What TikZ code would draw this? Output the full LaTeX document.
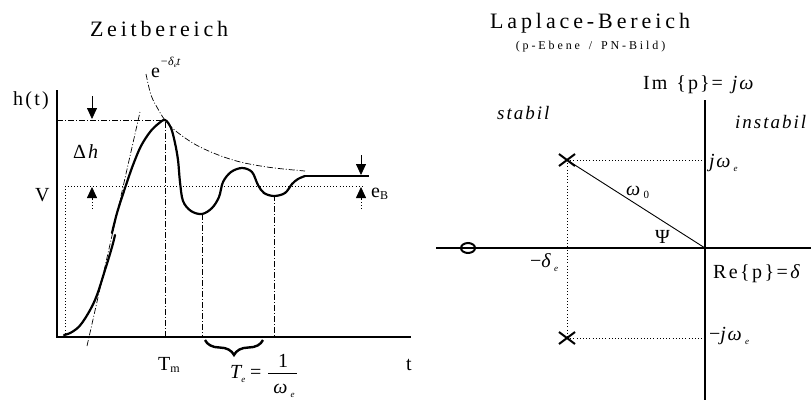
\documentclass[tikz,border=0pt]{standalone}
\usepackage{fontspec}
\setmainfont{Liberation Serif}
\usetikzlibrary{arrows.meta,decorations.pathreplacing,shapes.geometric}
\makeatletter
\newcommand\lsx[2]{\def\lsx@k{#1}\lsx@a#2\@nil}
\def\lsx@a#1{\ifx#1\@nil\else#1\kern\lsx@k\relax\expandafter\lsx@a\fi}
\makeatother
\newcommand{\subE}[1]{\raisebox{-0.45ex}{\fontsize{9}{9}\selectfont\itshape #1}}
\tikzset{
  axis/.style={line width=1.1pt},
  curve/.style={line width=2.2pt, line cap=round, line join=round},
  dd/.style={line width=0.7pt, dash pattern=on 6pt off 2pt on 1pt off 2pt},
  dots/.style={line width=0.9pt, dash pattern=on 1pt off 2.2pt},
  arr/.style={line width=0.8pt, -{Triangle[width=10pt,length=11pt]}},
  lbl/.style={inner sep=0pt, anchor=base west, font=\fontsize{20}{22}\selectfont},
  ilbl/.style={lbl, font=\fontsize{19}{20}\selectfont\itshape},
  title/.style={inner sep=0pt, anchor=base, font=\fontsize{22}{24}\selectfont},
  pole/.style={line width=2pt}
}
\begin{document}
\begin{tikzpicture}[x=1pt,y=-1pt]
\useasboundingbox (0,0) rectangle (811,400);
% ---------------- Time domain ----------------
\node[title] (zt) at (161,36) {\lsx{3.8pt}{Zeitbereich}};
% axes
\coordinate (o) at (57,337);
\coordinate (ytop) at (57,90);
\coordinate (xend) at (411,337);
\draw[axis] (ytop) -- (o) -- (xend);
% reference lines
\coordinate (pk) at (165,120);
\coordinate (pkl) at (57,120);
\coordinate (pkb) at (165,337);
\draw[dd] (pkl) -- (pk) -- (pkb);
\coordinate (vl) at (65,186);
\coordinate (vr) at (363,186);
\coordinate (vb) at (65,337);
\draw[dots] (vb) -- (vl) -- (vr);
\coordinate (m1) at (202,214);
\coordinate (m1b) at (202,337);
\coordinate (m2) at (274,195);
\coordinate (m2b) at (274,337);
\draw[dd] (m1) -- (m1b);
\draw[dd] (m2) -- (m2b);
% tangent
\coordinate (ta) at (87,346);
\coordinate (tb) at (140,112);
\draw[dd] (ta) -- (tb);
% envelope
\draw[dd] plot[smooth, tension=0.6] coordinates {(146,74) (151,95) (158,109) (165,120) (177,132) (200,147) (233,160) (267,167) (305,171)};
% step response
\draw[curve] plot[smooth, tension=0.6] coordinates {(64,335) (72,332) (82,323) (95,300) (105,270) (112,247) (115,235)};
\draw[curve] plot[smooth, tension=0.55] coordinates {(112,233) (117,213) (125,188) (133,165) (141,146) (150,132) (158,124) (165,120) (171,128) (175,143) (178,160) (180,182) (183,201) (191,211) (202,214) (212,208) (219,197) (223,182) (231,172) (242,168) (252,172) (258,185) (264,193) (274,196) (285,193) (292,184) (298,179) (305,176)};
\coordinate (fl1) at (304,176);
\coordinate (fl2) at (369,176);
\draw[curve, line cap=butt] (fl1) -- (fl2);
% arrows delta h
\coordinate (a1s) at (92,96);
\coordinate (a1e) at (92,119);
\draw[arr] (a1s) -- (a1e);
\coordinate (a2s) at (92,200);
\coordinate (a2e) at (92,187);
\coordinate (a2t) at (92,209);
\draw[arr] (a2s) -- (a2e);
\draw[dots] (a2t) -- (a2s);
% arrows e_B
\coordinate (b1s) at (361,155);
\coordinate (b1e) at (361,175);
\draw[arr] (b1s) -- (b1e);
\coordinate (b2s) at (361,199);
\coordinate (b2e) at (361,187);
\coordinate (b2t) at (361,209);
\draw[arr] (b2s) -- (b2e);
\draw[dots] (b2t) -- (b2s);
% brace
\coordinate (br1) at (263,340);
\coordinate (br2) at (205,340);
\draw[line width=2.4pt, decorate, decoration={brace, amplitude=15pt, raise=0pt}] (br1) -- (br2);
% labels
\node[lbl] (ht) at (13,105) {\lsx{2.2pt}{h(t)}};
\node[lbl] (vv) at (35,201) {V};
\node[lbl] (dh) at (73,158) {Δ\kern2pt\textit{h}};
\node[lbl] (eb) at (371,197) {e\raisebox{-0.3ex}{\fontsize{12}{12}\selectfont B}};
\node[lbl] (ee) at (151,77) {e\raisebox{1.3ex}{\fontsize{12}{12}\selectfont\itshape −δ\raisebox{-0.5ex}{\fontsize{7}{7}\selectfont e}t}};
\node[lbl] (tm) at (158,370) {T\raisebox{-0.3ex}{\fontsize{12}{12}\selectfont m}};
\node[lbl] (tt) at (406,370) {t};
\node[lbl] (te) at (230,378) {\itshape T\subE{e}};
\node[lbl] (eq) at (250,378) {=};
\coordinate (fr1) at (268,373);
\coordinate (fr2) at (297,373);
\draw[line width=0.7pt] (fr1) -- (fr2);
\node[lbl, anchor=base] (one) at (283,367) {1};
\node[lbl, anchor=base] (om) at (284,393) {\itshape ω\,\subE{e}};
% ---------------- Laplace domain ----------------
\node[title] (lt) at (592,28) {\lsx{3.9pt}{Laplace-Bereich}};
\node[inner sep=0pt, anchor=base, font=\fontsize{12}{13}\selectfont] (ls) at (592,49) {\lsx{2.9pt}{(p-Ebene\ /\ PN-Bild)}};
\coordinate (ro) at (705,248);
\coordinate (rxl) at (436,248);
\coordinate (rxr) at (811,248);
\coordinate (ryt) at (705,100);
\coordinate (ryb) at (705,400);
\draw[axis] (rxl) -- (rxr);
\draw[axis] (ryt) -- (ryb);
\coordinate (p1) at (567,160);
\coordinate (p2) at (567,338);
\coordinate (p1r) at (705,160);
\coordinate (p2r) at (705,338);
\draw[dots] (p1) -- (p1r);
\draw[dots] (p2) -- (p2r);
\draw[dots] (p1) -- (p2);
\draw[line width=0.9pt] (p1) -- (ro);
\draw[pole] (559,154) -- (575,166) (559,166) -- (575,154);
\draw[pole] (559,332) -- (575,344) (559,344) -- (575,332);
\node[draw, ellipse, line width=2pt, minimum width=14pt, minimum height=10pt, inner sep=0pt] (zero) at (468,248) {};
\node[lbl] (im) at (643,89) {\lsx{2pt}{Im\ \{p\}=\ }\textit{\lsx{2pt}{jω}}};
\node[lbl] (re) at (713,278) {\lsx{2.4pt}{Re\{p\}=}\textit{δ}};
\node[ilbl] (st) at (497,119) {\lsx{2pt}{stabil}};
\node[ilbl] (ist) at (735,128) {\lsx{2pt}{instabil}};
\node[lbl] (jwe) at (709,167) {\itshape j\kern1.5pt ω\,\subE{e}};
\node[lbl] (mjwe) at (709,340) {−\itshape j\kern1.5pt ω\,\subE{e}};
\node[lbl] (w0) at (626,195) {\itshape ω\,\raisebox{-0.4ex}{\upshape\fontsize{11}{11}\selectfont 0}};
\node[lbl] (psi) at (655,243) {Ψ};
\node[lbl] (de) at (530,267) {−\itshape δ\,\subE{e}};
\end{tikzpicture}
\end{document}
